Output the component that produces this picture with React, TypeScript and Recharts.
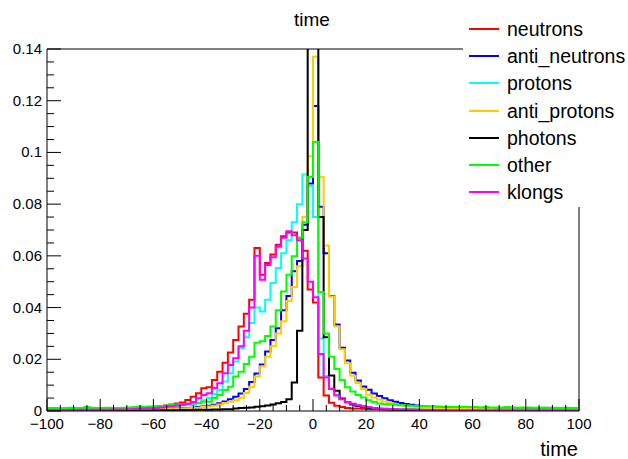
import React from 'react';
import { LineChart, Line, XAxis, YAxis, ReferenceLine, Legend } from 'recharts';

// Histogram: 100 bins of width 2 from -100 to 100 (values per bin, left to right)
const binLowEdges: number[] = Array.from({ length: 101 }, (_, i) => -100 + 2 * i);

const neutrons = [
  0.0007, 0.0007, 0.0006, 0.0007, 0.0007, 0.0008, 0.0007, 0.0008, 0.0008, 0.0008,
  0.0008, 0.0009, 0.0008, 0.0009, 0.001, 0.001, 0.0011, 0.0012, 0.0013, 0.0014,
  0.0016, 0.0019, 0.0021, 0.0025, 0.0029, 0.0033, 0.0043, 0.0055, 0.0069, 0.0088,
  0.0092, 0.012, 0.0152, 0.0187, 0.0226, 0.0275, 0.0327, 0.0376, 0.043, 0.063,
  0.0527, 0.0572, 0.0605, 0.0643, 0.0676, 0.069, 0.069, 0.067, 0.062, 0.047,
  0.042, 0.013, 0.006, 0.0032, 0.002, 0.0015, 0.0012, 0.001, 0.001, 0.0009,
  0.0008, 0.0008, 0.0008, 0.0007, 0.0007, 0.0007, 0.0007, 0.0006, 0.0007, 0.0006,
  0.0006, 0.0006, 0.0006, 0.0006, 0.0005, 0.0006, 0.0006, 0.0005, 0.0006, 0.0005,
  0.0005, 0.0005, 0.0005, 0.0006, 0.0005, 0.0005, 0.0005, 0.0005, 0.0005, 0.0005,
  0.0005, 0.0005, 0.0004, 0.0005, 0.0005, 0.0004, 0.0005, 0.0004, 0.0004, 0.0004,
];

const antiNeutrons = [
  0.0007, 0.0007, 0.0006, 0.0007, 0.0007, 0.0006, 0.0007, 0.0007, 0.0007, 0.0007,
  0.0007, 0.0007, 0.0007, 0.0008, 0.0007, 0.0007, 0.0008, 0.0008, 0.0008, 0.0008,
  0.0008, 0.0009, 0.0009, 0.001, 0.001, 0.0011, 0.0012, 0.0013, 0.0015, 0.0017,
  0.002, 0.0024, 0.003, 0.0037, 0.0045, 0.0055, 0.0068, 0.0085, 0.0112, 0.0145,
  0.018, 0.023, 0.0275, 0.032, 0.039, 0.0445, 0.054, 0.058, 0.072, 0.088,
  0.118, 0.079, 0.061, 0.0445, 0.0335, 0.0245, 0.0195, 0.0148, 0.0118, 0.0095,
  0.0082, 0.0068, 0.0058, 0.0049, 0.0042, 0.0036, 0.0031, 0.0027, 0.0024, 0.0021,
  0.0018, 0.0016, 0.0015, 0.0014, 0.0013, 0.0012, 0.0011, 0.0011, 0.001, 0.001,
  0.0009, 0.0009, 0.0009, 0.0008, 0.0008, 0.0008, 0.0009, 0.0009, 0.0011, 0.0011,
  0.001, 0.0011, 0.0008, 0.0007, 0.0007, 0.0007, 0.0007, 0.0006, 0.0007, 0.0006,
];

const protons = [
  0.0006, 0.0005, 0.0006, 0.0006, 0.0005, 0.0006, 0.0006, 0.0007, 0.0006, 0.0007,
  0.0007, 0.0007, 0.0008, 0.0008, 0.0008, 0.0009, 0.0009, 0.001, 0.001, 0.0011,
  0.0012, 0.0013, 0.0015, 0.0017, 0.0019, 0.0021, 0.0023, 0.0025, 0.0031, 0.0042,
  0.005, 0.0066, 0.0081, 0.0114, 0.0146, 0.0191, 0.0244, 0.0285, 0.034, 0.04,
  0.0385, 0.043, 0.0495, 0.0553, 0.061, 0.066, 0.073, 0.08, 0.0915, 0.087,
  0.075, 0.028, 0.0135, 0.0088, 0.0062, 0.0045, 0.0035, 0.0028, 0.0023, 0.0019,
  0.0015, 0.0012, 0.001, 0.0009, 0.0008, 0.0007, 0.0007, 0.0006, 0.0006, 0.0006,
  0.0005, 0.0005, 0.0005, 0.0005, 0.0005, 0.0004, 0.0004, 0.0005, 0.0004, 0.0004,
  0.0004, 0.0004, 0.0004, 0.0004, 0.0004, 0.0004, 0.0003, 0.0004, 0.0004, 0.0003,
  0.0004, 0.0003, 0.0003, 0.0004, 0.0003, 0.0003, 0.0003, 0.0003, 0.0003, 0.0003,
];

const antiProtons = [
  0.0005, 0.0005, 0.0004, 0.0005, 0.0005, 0.0005, 0.0005, 0.0005, 0.0006, 0.0005,
  0.0005, 0.0006, 0.0006, 0.0006, 0.0006, 0.0006, 0.0006, 0.0007, 0.0007, 0.0007,
  0.0007, 0.0008, 0.0008, 0.0009, 0.0009, 0.001, 0.0011, 0.0012, 0.0013, 0.0015,
  0.0017, 0.002, 0.0025, 0.0031, 0.0036, 0.0042, 0.005, 0.007, 0.0094, 0.0133,
  0.0172, 0.021, 0.025, 0.03, 0.0347, 0.0425, 0.048, 0.056, 0.075, 0.0985,
  0.137, 0.0905, 0.064, 0.0443, 0.0327, 0.0239, 0.0185, 0.0136, 0.0108, 0.0085,
  0.0063, 0.0052, 0.0044, 0.0037, 0.0031, 0.0027, 0.0023, 0.002, 0.0018, 0.0016,
  0.0014, 0.0013, 0.0012, 0.0011, 0.001, 0.001, 0.0009, 0.0009, 0.0009, 0.0008,
  0.0008, 0.0008, 0.0007, 0.0008, 0.0007, 0.0007, 0.0007, 0.0007, 0.0006, 0.0007,
  0.0006, 0.0006, 0.0006, 0.0006, 0.0006, 0.0006, 0.0005, 0.0006, 0.0005, 0.0005,
];

const photons = [
  0, 0, 0, 0, 0, 0, 0, 0, 0, 0,
  0, 0, 0, 0, 0, 0, 0.0002, 0.0002, 0.0002, 0.0002,
  0.0003, 0.0003, 0.0003, 0.0003, 0.0003, 0.0004, 0.0004, 0.0004, 0.0005, 0.0005,
  0.0005, 0.0006, 0.0006, 0.0007, 0.0007, 0.001, 0.0012, 0.0013, 0.0014, 0.0016,
  0.0018, 0.0021, 0.0025, 0.003, 0.0035, 0.0045, 0.011, 0.031, 0.07, 0.215,
  0.2, 0.075, 0.0285, 0.0137, 0.0078, 0.0048, 0.0034, 0.0025, 0.0019, 0.0015,
  0.0012, 0.001, 0.0008, 0.0007, 0.0006, 0.0005, 0.0004, 0.0004, 0.0003, 0.0003,
  0.0002, 0.0002, 0.0002, 0.0002, 0.0001, 0, 0, 0, 0, 0,
  0, 0, 0, 0, 0, 0, 0, 0, 0, 0,
  0, 0, 0, 0, 0, 0, 0, 0, 0, 0,
];

const other = [
  0.0012, 0.0012, 0.0011, 0.0012, 0.0013, 0.0012, 0.0012, 0.0015, 0.0013, 0.0012,
  0.0012, 0.0013, 0.0012, 0.0012, 0.0013, 0.0014, 0.0015, 0.0017, 0.0016, 0.0017,
  0.0018, 0.0019, 0.0021, 0.0023, 0.0025, 0.0027, 0.0028, 0.0029, 0.003, 0.0036,
  0.0036, 0.005, 0.0062, 0.0081, 0.0094, 0.0133, 0.0152, 0.0182, 0.021, 0.0264,
  0.027, 0.029, 0.0327, 0.039, 0.0462, 0.0527, 0.0598, 0.067, 0.073, 0.0905,
  0.104, 0.046, 0.03, 0.021, 0.0162, 0.012, 0.0092, 0.0075, 0.0062, 0.0052,
  0.0042, 0.0035, 0.0029, 0.0026, 0.0025, 0.0024, 0.0022, 0.0021, 0.002, 0.0019,
  0.0019, 0.0018, 0.0018, 0.0017, 0.0016, 0.0016, 0.0015, 0.0015, 0.0016, 0.0015,
  0.0015, 0.0014, 0.0015, 0.0014, 0.0014, 0.0014, 0.0015, 0.0014, 0.0013, 0.0014,
  0.0014, 0.0013, 0.0013, 0.0014, 0.0013, 0.0013, 0.0012, 0.0013, 0.0012, 0.0012,
];

const klongs = [
  0.0004, 0.0004, 0.0003, 0.0004, 0.0004, 0.0004, 0.0005, 0.0004, 0.0005, 0.0005,
  0.0005, 0.0005, 0.0006, 0.0006, 0.0006, 0.0007, 0.0008, 0.0009, 0.001, 0.0011,
  0.0012, 0.0014, 0.0016, 0.0018, 0.0021, 0.0024, 0.0028, 0.0035, 0.0049, 0.0062,
  0.0069, 0.0089, 0.0107, 0.0146, 0.0178, 0.0204, 0.025, 0.031, 0.04, 0.06,
  0.0508, 0.0565, 0.0595, 0.0635, 0.067, 0.0695, 0.068, 0.066, 0.059, 0.05,
  0.044, 0.022, 0.013, 0.0085, 0.006, 0.0045, 0.0035, 0.0028, 0.0022, 0.0018,
  0.0015, 0.0012, 0.001, 0.0009, 0.0008, 0.0007, 0.0006, 0.0006, 0.0005, 0.0005,
  0.0004, 0.0004, 0.0004, 0.0004, 0.0004, 0.0003, 0.0003, 0.0003, 0.0003, 0.0003,
  0.0003, 0.0003, 0.0003, 0.0003, 0.0003, 0.0003, 0.0003, 0.0003, 0.0003, 0.0003,
  0.0003, 0.0003, 0.0003, 0.0003, 0.0003, 0.0003, 0.0003, 0.0003, 0.0003, 0.0003,
];

const series = [
  { key: 'neutrons', name: 'neutrons', color: '#ff0000', values: neutrons },
  { key: 'anti_neutrons', name: 'anti_neutrons', color: '#0000ff', values: antiNeutrons },
  { key: 'protons', name: 'protons', color: '#00ffff', values: protons },
  { key: 'anti_protons', name: 'anti_protons', color: '#ffcc00', values: antiProtons },
  { key: 'photons', name: 'photons', color: '#000000', values: photons },
  { key: 'other', name: 'other', color: '#00ff00', values: other },
  { key: 'klongs', name: 'klongs', color: '#ff00ff', values: klongs },
];

// x ticks every 5, labelled every 20; y ticks every 0.005, labelled every 0.02
const xTicks: number[] = Array.from({ length: 41 }, (_, i) => -100 + 5 * i);
const xTickLabels: Record<number, string> = {
  [-100]: '\u2212100', [-80]: '\u221280', [-60]: '\u221260', [-40]: '\u221240', [-20]: '\u221220',
  0: '0', 20: '20', 40: '40', 60: '60', 80: '80', 100: '100',
};
const yTicks: number[] = Array.from({ length: 29 }, (_, i) => i * 0.005);
const yTickLabels = ['0', '0.02', '0.04', '0.06', '0.08', '0.1', '0.12', '0.14'];

const FONT = '"Liberation Sans", Arial, Helvetica, sans-serif';

// one row per bin edge; the last edge repeats the final bin so the step closes at 100
const rows = binLowEdges.map((t, i) => {
  const row: Record<string, number> = { t };
  series.forEach((s) => {
    row[s.key] = s.values[Math.min(i, s.values.length - 1)];
  });
  return row;
});

const XTick = (props: any) => {
  const { x, y, payload } = props;
  const v = Math.round(payload.value);
  const major = v % 20 === 0;
  return (
    <g>
      <line x1={x} x2={x} y1={y} y2={y - (major ? 12 : 6)} stroke="#000" strokeWidth={1} />
      {major && (
        <text x={x} y={y + 18} textAnchor="middle" fontSize={15} fontFamily={FONT} fill="#000">
          {xTickLabels[v]}
        </text>
      )}
    </g>
  );
};

const YTick = (props: any) => {
  const { x, y, payload } = props;
  const m = Math.round(payload.value * 1000);
  const major = m % 20 === 0;
  return (
    <g>
      <line x1={x} x2={x + (major ? 14 : 7)} y1={y} y2={y} stroke="#000" strokeWidth={1} />
      {major && (
        <text x={x - 5} y={y + 5} textAnchor="end" fontSize={15} fontFamily={FONT} fill="#000">
          {yTickLabels[m / 20]}
        </text>
      )}
    </g>
  );
};

const LegendBox = () => (
  <div style={{ position: 'relative', width: 165, height: 207, background: '#fff' }}>
    {series.map((s, i) => (
      <div
        key={s.key}
        style={{
          position: 'absolute',
          left: 0,
          top: 29 + i * 27.2 - 14,
          height: 28,
          display: 'flex',
          alignItems: 'center',
          whiteSpace: 'nowrap',
        }}
      >
        <svg width={44} height={28} style={{ display: 'block' }}>
          <line x1={6} x2={36} y1={14} y2={14} stroke={s.color} strokeWidth={2} />
        </svg>
        <span style={{ fontFamily: FONT, fontSize: 19.5, color: '#000', lineHeight: '28px' }}>{s.name}</span>
      </div>
    ))}
  </div>
);

export default function App() {
  return (
    <div style={{ position: 'absolute', left: 0, top: 0, width: 628, height: 459, background: '#fff' }}>
      <LineChart
        width={628}
        height={459}
        data={rows}
        margin={{ top: 49, right: 49, bottom: 18, left: 0 }}
      >
        <XAxis
          dataKey="t"
          type="number"
          domain={[-100, 100]}
          ticks={xTicks}
          interval={0}
          allowDataOverflow
          height={30}
          tickSize={0}
          tickMargin={0}
          tickLine={false}
          axisLine={{ stroke: '#000', strokeWidth: 1 }}
          tick={(p: any) => <XTick {...p} />}
        />
        <YAxis
          type="number"
          domain={[0, 0.14]}
          ticks={yTicks}
          interval={0}
          allowDataOverflow
          width={47}
          tickSize={0}
          tickMargin={0}
          tickLine={false}
          axisLine={{ stroke: '#000', strokeWidth: 1 }}
          tick={(p: any) => <YTick {...p} />}
        />
        <ReferenceLine y={0.14} stroke="#000" strokeWidth={1} />
        <ReferenceLine x={100} stroke="#000" strokeWidth={1} />
        {series.map((s) => (
          <Line
            key={s.key}
            dataKey={s.key}
            name={s.name}
            type="stepAfter"
            stroke={s.color}
            strokeWidth={2}
            dot={false}
            activeDot={false}
            isAnimationActive={false}
          />
        ))}
        <Legend
          layout="vertical"
          align="center"
          verticalAlign="middle"
          content={() => <LegendBox />}
          wrapperStyle={{ left: 463, top: 0, width: 165, height: 207 }}
        />
      </LineChart>
      <svg
        width={628}
        height={459}
        style={{ position: 'absolute', left: 0, top: 0, pointerEvents: 'none' }}
      >
        <text x={312} y={26} textAnchor="middle" fontSize={19} fontFamily={FONT} fill="#000">
          time
        </text>
        <text x={578} y={456} textAnchor="end" fontSize={20} fontFamily={FONT} fill="#000">
          time
        </text>
      </svg>
    </div>
  );
}
